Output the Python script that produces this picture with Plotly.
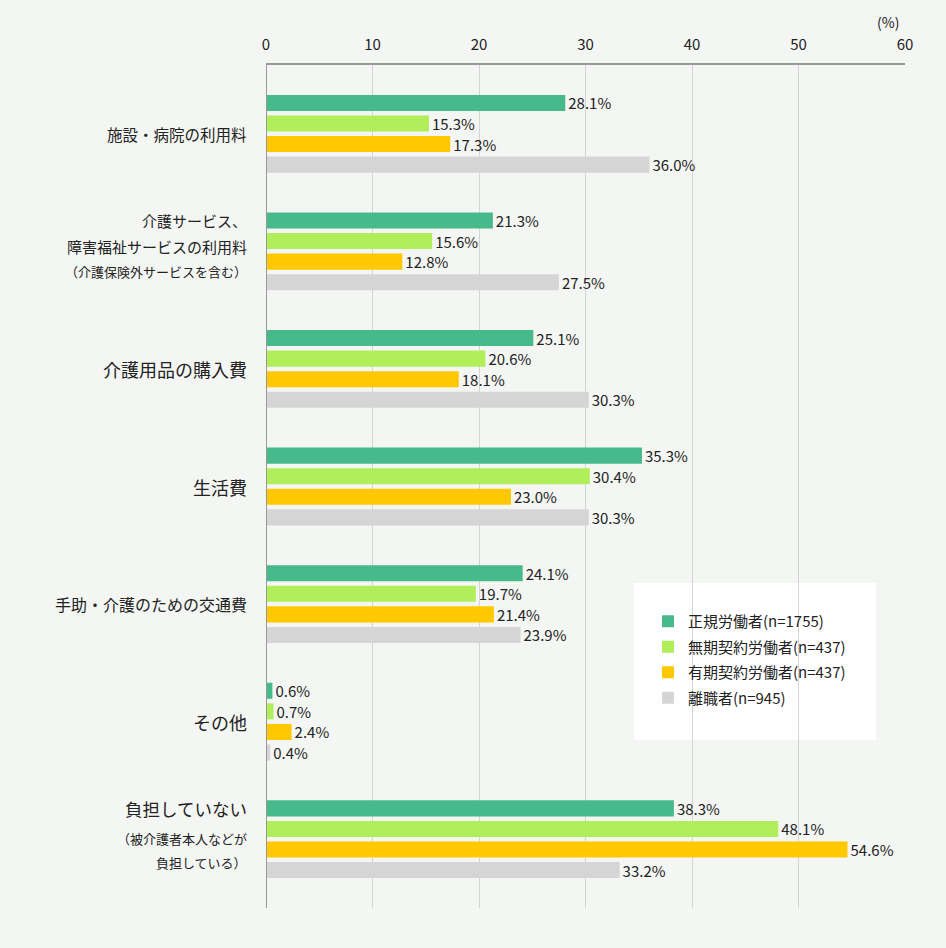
import plotly.graph_objects as go

# categories (label lines: text, font size)
cat_lines = [
    [("施設・病院の利用料", 15.5)],
    [("介護サービス、", 15), ("障害福祉サービスの利用料", 15), ("（介護保険外サービスを含む）", 13)],
    [("介護用品の購入費", 18)],
    [("生活費", 18)],
    [("手助・介護のための交通費", 16)],
    [("その他", 18)],
    [("負担していない", 17.5), ("（被介護者本人などが", 13), ("負担している）", 13)],
]

series_names = ["正規労働者(n=1755)", "無期契約労働者(n=437)", "有期契約労働者(n=437)", "離職者(n=945)"]
regular = [28.1, 21.3, 25.1, 35.3, 24.1, 0.6, 38.3]
indefinite = [15.3, 15.6, 20.6, 30.4, 19.7, 0.7, 48.1]
fixed_term = [17.3, 12.8, 18.1, 23.0, 21.4, 2.4, 54.6]
resigned = [36.0, 27.5, 30.3, 30.3, 23.9, 0.4, 33.2]
colors = ["#48b98a", "#b0ee5a", "#ffc800", "#d5d5d5"]

x_ticks = [0, 10, 20, 30, 40, 50, 60]

font_family = "Noto Sans CJK JP"
ypos = list(range(len(cat_lines)))

fig = go.Figure()
for name, vals, col in zip(series_names, [regular, indefinite, fixed_term, resigned], colors):
    fig.add_trace(go.Bar(
        y=ypos, x=vals, orientation="h", name=name,
        marker=dict(color=col, line=dict(width=0)),
        text=[f"{v:.1f}%" for v in vals], textposition="outside",
        constraintext="none",
        textfont=dict(size=15, color="#222222", family=font_family),
        cliponaxis=False, legendgroup=name,
    ))

annotations = []
for i, lines in enumerate(cat_lines):
    if len(lines) == 1:
        offs = [0]
    elif i == 6:
        offs = [31, 1, -23]
    else:
        offs = [31, 5, -20]
    for (txt, size), off in zip(lines, offs):
        annotations.append(dict(
            x=-0.026, xref="paper", y=i, yref="y", yshift=off,
            text=txt, showarrow=False, xanchor="right", yanchor="middle",
            font=dict(size=size, color="#222222", family=font_family),
        ))
annotations.append(dict(
    x=1.0, xref="paper", y=1.0, yref="paper", yshift=43, xshift=-17,
    text="(%)", showarrow=False, xanchor="center", yanchor="middle",
    font=dict(size=14, color="#222222", family=font_family),
))

fig.update_layout(
    width=946, height=948,
    paper_bgcolor="#f4f6f3", plot_bgcolor="#f4f6f3",
    margin=dict(l=266, r=41, t=65, b=40),
    barmode="group", bargap=0.30, bargroupgap=0.22,
    font=dict(family=font_family, color="#222222"),
    xaxis=dict(
        side="top", range=[0, 60], tickvals=x_ticks, ticks="",
        tickfont=dict(size=15, color="#222222"), ticklabelstandoff=7,
        showgrid=True, gridcolor="#d4d4d4", gridwidth=1,
        showline=True, linecolor="#999999", linewidth=2,
        zeroline=False, fixedrange=True,
    ),
    yaxis=dict(
        range=[6.585, -0.585], showticklabels=False, showgrid=False,
        zeroline=False, showline=False, ticks="",
    ),
    shapes=[
        dict(type="line", xref="x", yref="paper", x0=0, x1=0, y0=0, y1=1,
             line=dict(color="#999999", width=2)),
        dict(type="rect", xref="paper", yref="paper",
             x0=(634 - 266) / 639, x1=(876 - 266) / 639,
             y0=(908 - 740) / 843, y1=(908 - 583) / 843,
             fillcolor="#ffffff", line=dict(width=0), layer="below"),
    ],
    annotations=annotations,
    showlegend=True,
    legend=dict(
        x=(648 - 266) / 639, y=(908 - 605) / 843, xanchor="left", yanchor="top",
        bgcolor="rgba(0,0,0,0)", font=dict(size=15, color="#222222"),
        traceorder="grouped", tracegroupgap=3,
    ),
)

fig.write_html(
    "out.html",
    config={"displayModeBar": False},
    post_script="document.body.style.margin='0';document.body.style.background='#f4f6f3';",
)
